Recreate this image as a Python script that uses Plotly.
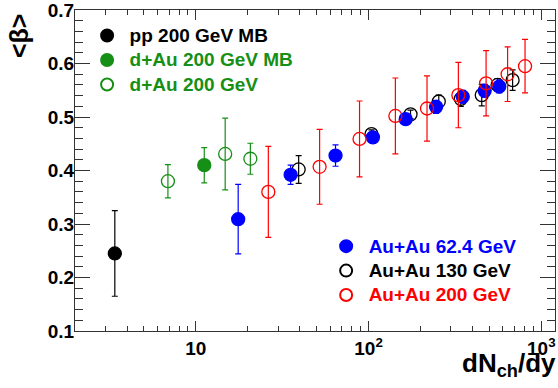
import plotly.graph_objects as go
import math

# ---- data ----
pp_x = [3.4]
pp_y = [0.245]
pp_e = [0.080]

dau_mb_x = [11.2]
dau_mb_y = [0.410]
dau_mb_e = [0.033]

dau_x = [6.9, 14.8, 20.7]
dau_y = [0.380, 0.431, 0.422]
dau_e = [0.031, 0.067, 0.029]

au62_x = [17.6, 35.4, 64.4, 106, 164, 246, 351, 470, 571]
au62_y = [0.309, 0.392, 0.428, 0.462, 0.496, 0.519, 0.538, 0.549, 0.557]
au62_e = [0.065, 0.018, 0.020, 0.006, 0.008, 0.012, 0.012, 0.012, 0.012]

au130_x = [39.4, 104, 175, 255, 342, 452, 558, 682]
au130_y = [0.402, 0.468, 0.505, 0.529, 0.534, 0.541, 0.560, 0.569]
au130_e = [0.026, 0.008, 0.008, 0.012, 0.014, 0.020, 0.012, 0.019]

au200_x = [26.3, 52.1, 88.7, 143, 218, 331, 479, 638, 805]
au200_y = [0.360, 0.407, 0.459, 0.502, 0.516, 0.541, 0.563, 0.580, 0.595]
au200_e = [0.085, 0.070, 0.071, 0.071, 0.061, 0.061, 0.061, 0.051, 0.050]

x_tickvals = [10, 100, 1000]
x_ticktext = ["10", "10<sup>2</sup>", "10<sup>3</sup>"]
y_tickvals = [0.1, 0.2, 0.3, 0.4, 0.5, 0.6, 0.7]
y_ticktext = ["0.1", "0.2", "0.3", "0.4", "0.5", "0.6", "0.7"]

GREEN = "#168f16"
BLUE = "#0000ff"
RED = "#ff0000"
BLACK = "#000000"
MS = 13


def lbl(text, color):
    return f"<span style='color:{color};font-size:19px'>{text}</span>"


fig = go.Figure()


def add(x, y, e, color, symbol, name, legend, rank):
    fig.add_trace(go.Scatter(
        x=x, y=y, mode="markers", name=name, legend=legend, legendrank=rank,
        marker=dict(symbol=symbol, size=MS, color=color,
                    line=dict(color=color, width=1.3)),
        error_y=dict(type="data", array=e, visible=True, color=color,
                     thickness=1.2, width=3),
    ))


add(pp_x, pp_y, pp_e, BLACK, "circle", lbl("pp 200 GeV MB", BLACK), "legend", 1)
add(dau_mb_x, dau_mb_y, dau_mb_e, GREEN, "circle",
    lbl("d+Au 200 GeV MB", GREEN), "legend", 2)
add(dau_x, dau_y, dau_e, GREEN, "circle-open",
    lbl("d+Au 200 GeV", GREEN), "legend", 3)
add(au130_x, au130_y, au130_e, BLACK, "circle-open",
    lbl("Au+Au 130 GeV", BLACK), "legend2", 2)
add(au62_x, au62_y, au62_e, BLUE, "circle",
    lbl("Au+Au 62.4 GeV", BLUE), "legend2", 1)
add(au200_x, au200_y, au200_e, RED, "circle-open",
    lbl("Au+Au 200 GeV", RED), "legend2", 3)

axis_common = dict(
    showline=True, linecolor="#333333", linewidth=1, mirror="ticks",
    ticks="inside", tickcolor="#333333", showgrid=False, zeroline=False,
    automargin=False, ticklabeloverflow="allow",
)

fig.update_layout(
    width=558, height=388,
    margin=dict(l=75, r=3, t=10, b=57, autoexpand=False),
    paper_bgcolor="white", plot_bgcolor="white",
    font=dict(family="Liberation Sans, Arial, sans-serif", size=19,
              color="black", weight="bold"),
    xaxis=dict(
        type="log", range=[math.log10(2.0), math.log10(1200)],
        tickmode="array", tickvals=x_tickvals, ticktext=x_ticktext,
        ticklen=10, ticklabelstandoff=0,
        minor=dict(tickmode="array",
                   tickvals=[v * d for d in (1, 10, 100) for v in range(2, 10)],
                   ticklen=5, ticks="inside", tickcolor="#333333"),
        **axis_common,
    ),
    yaxis=dict(
        range=[0.1, 0.7001], tickmode="array", tickvals=y_tickvals,
        ticktext=y_ticktext, ticklen=15, ticklabelstandoff=-4,
        minor=dict(dtick=0.02, ticklen=8, ticks="inside", tickcolor="#333333"),
        **axis_common,
    ),
    legend=dict(x=0.02, y=0.974, xanchor="left", yanchor="top",
                bgcolor="rgba(0,0,0,0)", borderwidth=0, itemwidth=35,
                font=dict(size=16.5, weight="bold"), itemsizing="constant",
                tracegroupgap=0),
    legend2=dict(x=0.518, y=0.318, xanchor="left", yanchor="top",
                 bgcolor="rgba(0,0,0,0)", borderwidth=0, itemwidth=35,
                 font=dict(size=16.5, weight="bold"), itemsizing="constant",
                 tracegroupgap=0),
    showlegend=True,
    annotations=[
        dict(text="dN<sub>ch</sub>/dy", xref="paper", yref="paper",
             x=1.0, y=-0.105, xanchor="right", yanchor="middle", xshift=3,
             showarrow=False, font=dict(size=26, weight="bold")),
        dict(text="&lt;β&gt;", xref="paper", yref="paper", textangle=-90,
             x=-0.118, y=0.92, xanchor="center", yanchor="middle",
             showarrow=False, font=dict(size=25, weight="bold")),
    ],
)

fig.write_html("out.html",
               config={"displayModeBar": False},
               post_script="document.body.style.margin='0px';"
                           "document.body.style.padding='0px';")
